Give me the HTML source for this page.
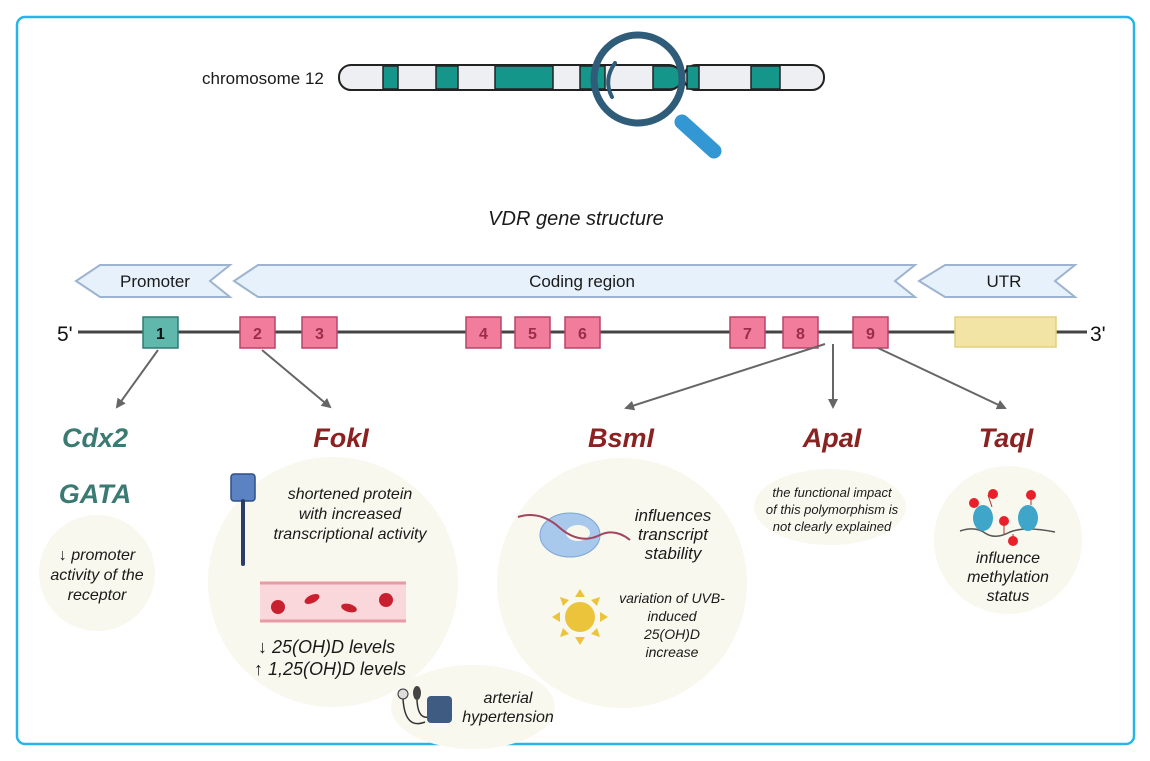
<!DOCTYPE html>
<html><head><meta charset="utf-8"><style>
html,body{margin:0;padding:0;background:#fff;}
svg{display:block;font-family:"Liberation Sans",sans-serif;}
.t{font-style:italic;fill:#1a1a1a;}
.h{font-style:italic;font-weight:bold;font-size:27px;}
</style></head><body>
<svg width="1150" height="761" viewBox="0 0 1150 761" xmlns="http://www.w3.org/2000/svg">
<rect x="17" y="17" width="1117" height="727" rx="8" fill="#fff" stroke="#29b3e6" stroke-width="2.5"/>
<text x="202" y="84" font-size="17" fill="#1a1a1a">chromosome 12</text>
<g stroke="#222" stroke-width="2">
<rect x="339" y="65" width="342" height="25" rx="12" fill="#eeeff2"/>
<rect x="684" y="65" width="140" height="25" rx="12" fill="#eeeff2"/>
</g>
<g fill="#14968a" stroke="#222" stroke-width="1.5">
<rect x="383" y="66" width="15" height="23"/>
<rect x="436" y="66" width="22" height="23"/>
<rect x="495" y="66" width="58" height="23"/>
<rect x="580" y="66" width="25" height="23"/>
<path d="M653 66 H670 A12 11.5 0 0 1 670 89 H653 Z"/>
<rect x="687" y="66" width="12" height="23"/>
<rect x="751" y="66" width="29" height="23"/>
</g>
<circle cx="638" cy="79" r="44" fill="none" stroke="#2f5c78" stroke-width="7"/>
<path d="M615 63 Q603 80 612 97" fill="none" stroke="#2f5c78" stroke-width="4" stroke-linecap="round"/>
<line x1="682" y1="122" x2="714" y2="151" stroke="#3297d3" stroke-width="15" stroke-linecap="round"/>
<text x="576" y="225" font-size="20" class="t" text-anchor="middle">VDR gene structure</text>
<g fill="#e6f1fb" stroke="#9db3cf" stroke-width="2">
<path d="M100 265 H230 L210 281 L230 297 H100 L76 281 Z"/>
<path d="M258 265 H915 L895 281 L915 297 H258 L234 281 Z"/>
<path d="M945 265 H1075 L1055 281 L1075 297 H945 L919 281 Z"/>
</g>
<text x="155" y="287" font-size="17" text-anchor="middle" fill="#1a1a1a">Promoter</text>
<text x="582" y="287" font-size="17" text-anchor="middle" fill="#1a1a1a">Coding region</text>
<text x="1004" y="287" font-size="17" text-anchor="middle" fill="#1a1a1a">UTR</text>
<line x1="78" y1="332" x2="1087" y2="332" stroke="#444" stroke-width="3"/>
<text x="57" y="341" font-size="21" fill="#111">5'</text>
<text x="1090" y="341" font-size="21" fill="#111">3'</text>
<rect x="143" y="317" width="35" height="31" fill="#5fb8ab" stroke="#2e7b73" stroke-width="1.5"/>
<text x="160.5" y="339" font-size="16" font-weight="bold" text-anchor="middle" fill="#111">1</text>
<g fill="#f27c9c" stroke="#b84468" stroke-width="1.5">
<rect x="240" y="317" width="35" height="31"/><rect x="302" y="317" width="35" height="31"/>
<rect x="466" y="317" width="35" height="31"/><rect x="515" y="317" width="35" height="31"/>
<rect x="565" y="317" width="35" height="31"/><rect x="730" y="317" width="35" height="31"/>
<rect x="783" y="317" width="35" height="31"/><rect x="853" y="317" width="35" height="31"/>
</g>
<g font-size="16" font-weight="bold" text-anchor="middle" fill="#9a2d4a">
<text x="257.5" y="339">2</text><text x="319.5" y="339">3</text><text x="483.5" y="339">4</text>
<text x="532.5" y="339">5</text><text x="582.5" y="339">6</text><text x="747.5" y="339">7</text>
<text x="800.5" y="339">8</text><text x="870.5" y="339">9</text>
</g>
<rect x="955" y="317" width="101" height="30" fill="#f2e4a5" stroke="#e3d07e" stroke-width="1.5"/>
<defs><marker id="a" markerWidth="10" markerHeight="10" refX="8" refY="5" orient="auto" markerUnits="userSpaceOnUse"><path d="M0 0 L10 5 L0 10 Z" fill="#666"/></marker></defs>
<g stroke="#666" stroke-width="2" marker-end="url(#a)">
<line x1="158" y1="350" x2="117" y2="407"/>
<line x1="262" y1="350" x2="330" y2="407"/>
<line x1="825" y1="344" x2="626" y2="408"/>
<line x1="833" y1="344" x2="833" y2="407"/>
<line x1="878" y1="348" x2="1005" y2="408"/>
</g>
<g fill="#f8f8ee">
<circle cx="97" cy="573" r="58"/>
<circle cx="333" cy="582" r="125"/>
<ellipse cx="473" cy="707" rx="82" ry="42"/>
<circle cx="622" cy="583" r="125"/>
<ellipse cx="830" cy="507" rx="76" ry="38"/>
<circle cx="1008" cy="540" r="74"/>
</g>
<text x="95" y="447" class="h" text-anchor="middle" fill="#3b7a73">Cdx2</text>
<text x="95" y="503" class="h" text-anchor="middle" fill="#3b7a73">GATA</text>
<text x="341" y="447" class="h" text-anchor="middle" fill="#8b2222">FokI</text>
<text x="621" y="447" class="h" text-anchor="middle" fill="#8b2222">BsmI</text>
<text x="832" y="447" class="h" text-anchor="middle" fill="#8b2222">ApaI</text>
<text x="1006" y="447" class="h" text-anchor="middle" fill="#8b2222">TaqI</text>
<g class="t" font-size="16" text-anchor="middle">
<text x="97" y="560">↓ promoter</text><text x="97" y="580">activity of the</text><text x="97" y="600">receptor</text>
</g>
<rect x="231" y="474" width="24" height="27" rx="3" fill="#5b82c2" stroke="#2f4f85" stroke-width="1.5"/>
<line x1="243" y1="501" x2="243" y2="564" stroke="#2c3e66" stroke-width="4" stroke-linecap="round"/>
<g class="t" font-size="16" text-anchor="middle">
<text x="350" y="499">shortened protein</text><text x="350" y="519">with increased</text><text x="350" y="539">transcriptional activity</text>
</g>
<rect x="260" y="582" width="146" height="40" fill="#f9d7da"/>
<line x1="260" y1="583" x2="406" y2="583" stroke="#e89aa5" stroke-width="3"/>
<line x1="260" y1="621" x2="406" y2="621" stroke="#e89aa5" stroke-width="3"/>
<g fill="#c8202f"><circle cx="278" cy="607" r="7"/><circle cx="386" cy="600" r="7"/><ellipse cx="312" cy="599" rx="8" ry="4" transform="rotate(-25 312 599)"/><ellipse cx="349" cy="608" rx="8" ry="4" transform="rotate(15 349 608)"/></g>
<g class="t" font-size="18">
<text x="258" y="653">↓ 25(OH)D levels</text><text x="254" y="675">↑ 1,25(OH)D levels</text>
</g>
<circle cx="403" cy="694" r="5" fill="#ddd" stroke="#333"/>
<ellipse cx="417" cy="693" rx="4" ry="7" fill="#444"/>
<path d="M403 699 Q405 730 425 722 M417 700 Q418 722 432 716" fill="none" stroke="#333" stroke-width="1.5"/>
<rect x="427" y="696" width="25" height="27" rx="4" fill="#3f5b82"/>
<g class="t" font-size="16" text-anchor="middle"><text x="508" y="703">arterial</text><text x="508" y="722">hypertension</text></g>
<ellipse cx="570" cy="535" rx="30" ry="22" fill="#a8c8ec" stroke="#7ea6d8"/>
<ellipse cx="578" cy="533" rx="12" ry="8" fill="#f7f7ec"/>
<path d="M518 517 Q540 510 560 528 Q580 545 600 535 Q615 528 630 540" fill="none" stroke="#a24460" stroke-width="2"/>
<g class="t" font-size="17" text-anchor="middle"><text x="673" y="521">influences</text><text x="673" y="540">transcript</text><text x="673" y="559">stability</text></g>
<g fill="#ecc43b"><circle cx="580" cy="617" r="15"/>
<path d="M580 589 l-5 8 h10z M580 645 l-5 -8 h10z M552 617 l8 -5 v10z M608 617 l-8 -5 v10z M560 597 l3 9 6 -6z M600 597 l-3 9 -6 -6z M560 637 l3 -9 6 6z M600 637 l-3 -9 -6 6z"/></g>
<g class="t" font-size="14" text-anchor="middle"><text x="672" y="603">variation of UVB-</text><text x="672" y="621">induced</text><text x="672" y="639">25(OH)D</text><text x="672" y="657">increase</text></g>
<g class="t" font-size="13" text-anchor="middle"><text x="832" y="497">the functional impact</text><text x="832" y="514">of this polymorphism is</text><text x="832" y="531">not clearly explained</text></g>
<path d="M960 531 Q975 526 985 533 Q995 540 1010 532 Q1025 526 1055 532" fill="none" stroke="#555" stroke-width="1.5"/>
<g fill="#3fa6c9"><ellipse cx="983" cy="518" rx="10" ry="13"/><ellipse cx="1028" cy="518" rx="10" ry="13"/></g>
<g stroke="#a33" stroke-width="1"><line x1="988" y1="495" x2="992" y2="507"/><line x1="1031" y1="495" x2="1031" y2="505"/><line x1="1004" y1="522" x2="1004" y2="534"/><line x1="1013" y1="540" x2="1013" y2="534"/></g>
<g fill="#e8202a"><circle cx="974" cy="503" r="5"/><circle cx="993" cy="494" r="5"/><circle cx="1031" cy="495" r="5"/><circle cx="1004" cy="521" r="5"/><circle cx="1013" cy="541" r="5"/></g>
<g class="t" font-size="16" text-anchor="middle"><text x="1008" y="563">influence</text><text x="1008" y="582">methylation</text><text x="1008" y="601">status</text></g>
</svg>
</body></html>
